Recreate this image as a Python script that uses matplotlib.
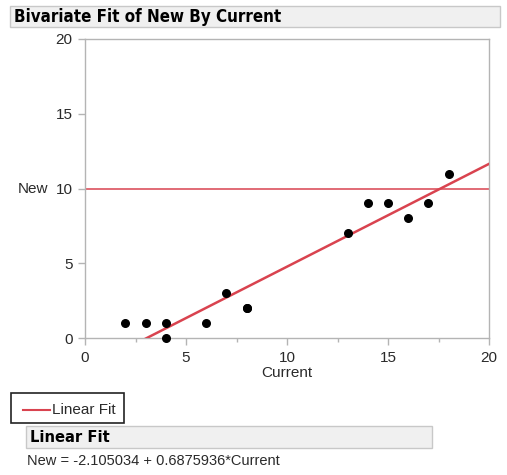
import matplotlib.pyplot as plt
from matplotlib.patches import Rectangle
from matplotlib.lines import Line2D
import numpy as np

plt.rcParams['font.family'] = ['Liberation Sans', 'DejaVu Sans']

current = [2, 3, 4, 4, 6, 7, 8, 8, 13, 14, 15, 16, 17, 18]
new = [1, 1, 1, 0, 1, 3, 2, 2, 7, 9, 9, 8, 9, 11]
intercept, slope = -2.105034, 0.6875936
ref_level = 10
x_ticks = [0, 5, 10, 15, 20]
y_ticks = [0, 5, 10, 15, 20]

red = '#d9434f'
grey = '#b4b4b4'
ink = '#2a2a2a'

W, H = 507, 475
fig = plt.figure(figsize=(W / 100, H / 100), dpi=100)

def px(x0, y0, x1, y1):
    # pixel box (top-left origin) -> figure fraction rect
    return [x0 / W, 1 - y1 / H, (x1 - x0) / W, (y1 - y0) / H]

ax = fig.add_axes(px(85, 39, 489, 338))
ax.set_xlim(0, 20)
ax.set_ylim(0, 20)
for s in ax.spines.values():
    s.set_color(grey)
    s.set_linewidth(1.0)

ax.axhline(ref_level, color=red, lw=1.1, zorder=2)
xs = np.array([0, 20])
ax.plot(xs, intercept + slope * xs, color=red, lw=1.8, zorder=3)
ax.scatter(current, new, s=30, color='black', zorder=4, clip_on=False)

ax.set_xticks(x_ticks)
ax.set_yticks(y_ticks)
ax.set_xticks([2.5, 7.5, 12.5, 17.5], minor=True)
ax.tick_params(which='major', length=5, width=1, color=grey, labelsize=11,
               labelcolor=ink, pad=4)
ax.tick_params(which='minor', axis='x', length=3, width=1, color=grey)
ax.set_xlabel('Current', fontsize=11, color=ink, labelpad=1)
fig.text(18 / W, 1 - 189 / H, 'New', fontsize=11, color=ink, va='center')

# outlined header bars
def header(x0, y0, x1, y1, label, size):
    fig.patches.append(Rectangle((x0 / W, 1 - y1 / H), (x1 - x0) / W, (y1 - y0) / H,
                                 transform=fig.transFigure, facecolor='#f0f0f0',
                                 edgecolor='#c8c8c8', lw=1))
    fig.text((x0 + 4) / W, 1 - (y0 + y1) / 2 / H, label, fontsize=size,
             fontweight='bold', va='center', color='black',
             family=['DejaVu Sans'], fontstretch='condensed')

header(10, 6, 500, 27, 'Bivariate Fit of New By Current', 12.2)
header(26, 426, 432, 448, 'Linear Fit', 11.8)

# legend
fig.patches.append(Rectangle((11 / W, 1 - 423 / H), 113 / W, 30 / H,
                             transform=fig.transFigure, facecolor='white',
                             edgecolor='#222222', lw=1.2))
fig.lines.append(Line2D([23 / W, 50 / W], [1 - 410 / H, 1 - 410 / H],
                        transform=fig.transFigure, color=red, lw=1.5))
fig.text(52 / W, 1 - 410 / H, 'Linear Fit', fontsize=11, va='center', color=ink)

fig.text(27 / W, 1 - 461 / H, f'New = {intercept:.6f} + {slope:.7f}*Current',
         fontsize=10.5, va='center', color=ink)

fig.savefig('out.png', dpi=100)
